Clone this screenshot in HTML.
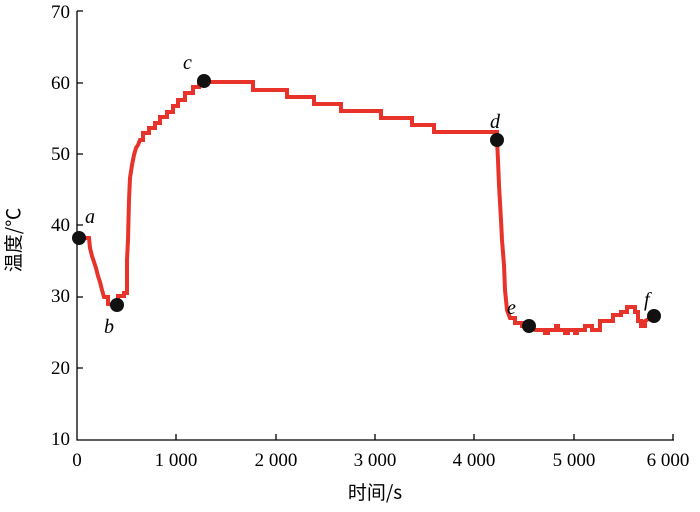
<!DOCTYPE html>
<html><head><meta charset="utf-8"><style>body{margin:0;background:#fff}</style></head><body>
<svg width="700" height="507" xmlns="http://www.w3.org/2000/svg" font-family="Liberation Serif, 'Noto Serif CJK SC', serif" font-size="19">
<g stroke="#000" stroke-width="1.3" fill="none">
<path d="M77,11V440H674"/>
<path d="M77,83h6M77,154h6M77,225h6M77,297h6M77,368h6M77,11h6"/>
<path d="M176,440v-6M276,440v-6M375,440v-6M474,440v-6M574,440v-6M673,440v-6"/>
</g>
<g text-anchor="end">
<text x="70" y="445">10</text><text x="70" y="374">20</text><text x="70" y="302">30</text><text x="70" y="231">40</text><text x="70" y="160">50</text><text x="70" y="89">60</text><text x="70" y="18">70</text>
</g>
<g text-anchor="middle">
<text x="77" y="466">0</text><text x="176" y="466">1 000</text><text x="276" y="466">2 000</text><text x="375" y="466">3 000</text><text x="474" y="466">4 000</text><text x="574" y="466">5 000</text><text x="668" y="466">6 000</text>
<text x="375" y="499" font-family="'Noto Sans CJK SC','Liberation Serif',serif">时间/s</text>
<text transform="translate(20,240) rotate(-90)" font-family="'Noto Sans CJK SC','Liberation Serif',serif">温度/℃</text>
</g>
<polyline fill="none" stroke="#e8332a" stroke-width="4" stroke-linejoin="miter" points="79,238 89,238 90,248 92,256 94,262 96,268 98,276 100,282 102,290 104,297 108,297 108,304 117,305 118,303 118,296 124,296 124,293 127,293 127,260 128,240 129,200 130,178 132,165 134,155 136,148 138,145 140,140 143,140 143,133 149,133 149,128 155,128 155,123 160,123 160,117 167,117 167,112 173,112 173,106 178,106 178,100 185,100 185,93 193,93 193,87 199,87 199,82 253,82 253,90 287,90 287,97 314,97 314,104 341,104 341,111 381,111 381,118 412,118 412,125 434,125 434,132 497,132 497,140 498,160 499,185 501,220 502,240 504,265 505,290 507,310 510,318 515,318 515,323 522,323 522,326 530,326 535,330 545,330 545,333 548,333 548,330 556,330 556,326 558,326 558,330 565,330 565,333 568,333 568,330 575,330 575,333 577,333 577,330 585,330 585,326 592,326 592,330 600,330 600,321 613,321 613,315 621,315 621,312 627,312 627,307 635,307 635,312 638,312 638,321 641,321 641,326 645,326 645,321 654,316"/>
<g fill="#111">
<circle cx="79" cy="238" r="7"/><circle cx="117" cy="305" r="7"/><circle cx="204" cy="81" r="7"/><circle cx="497" cy="140" r="7"/><circle cx="529" cy="326" r="7"/><circle cx="654" cy="316" r="7"/>
</g>
<g font-style="italic" font-size="20">
<text x="85" y="223">a</text><text x="104" y="333">b</text><text x="183" y="69">c</text><text x="490" y="128">d</text><text x="507" y="314">e</text><text x="644" y="306">f</text>
</g>
</svg>
</body></html>
